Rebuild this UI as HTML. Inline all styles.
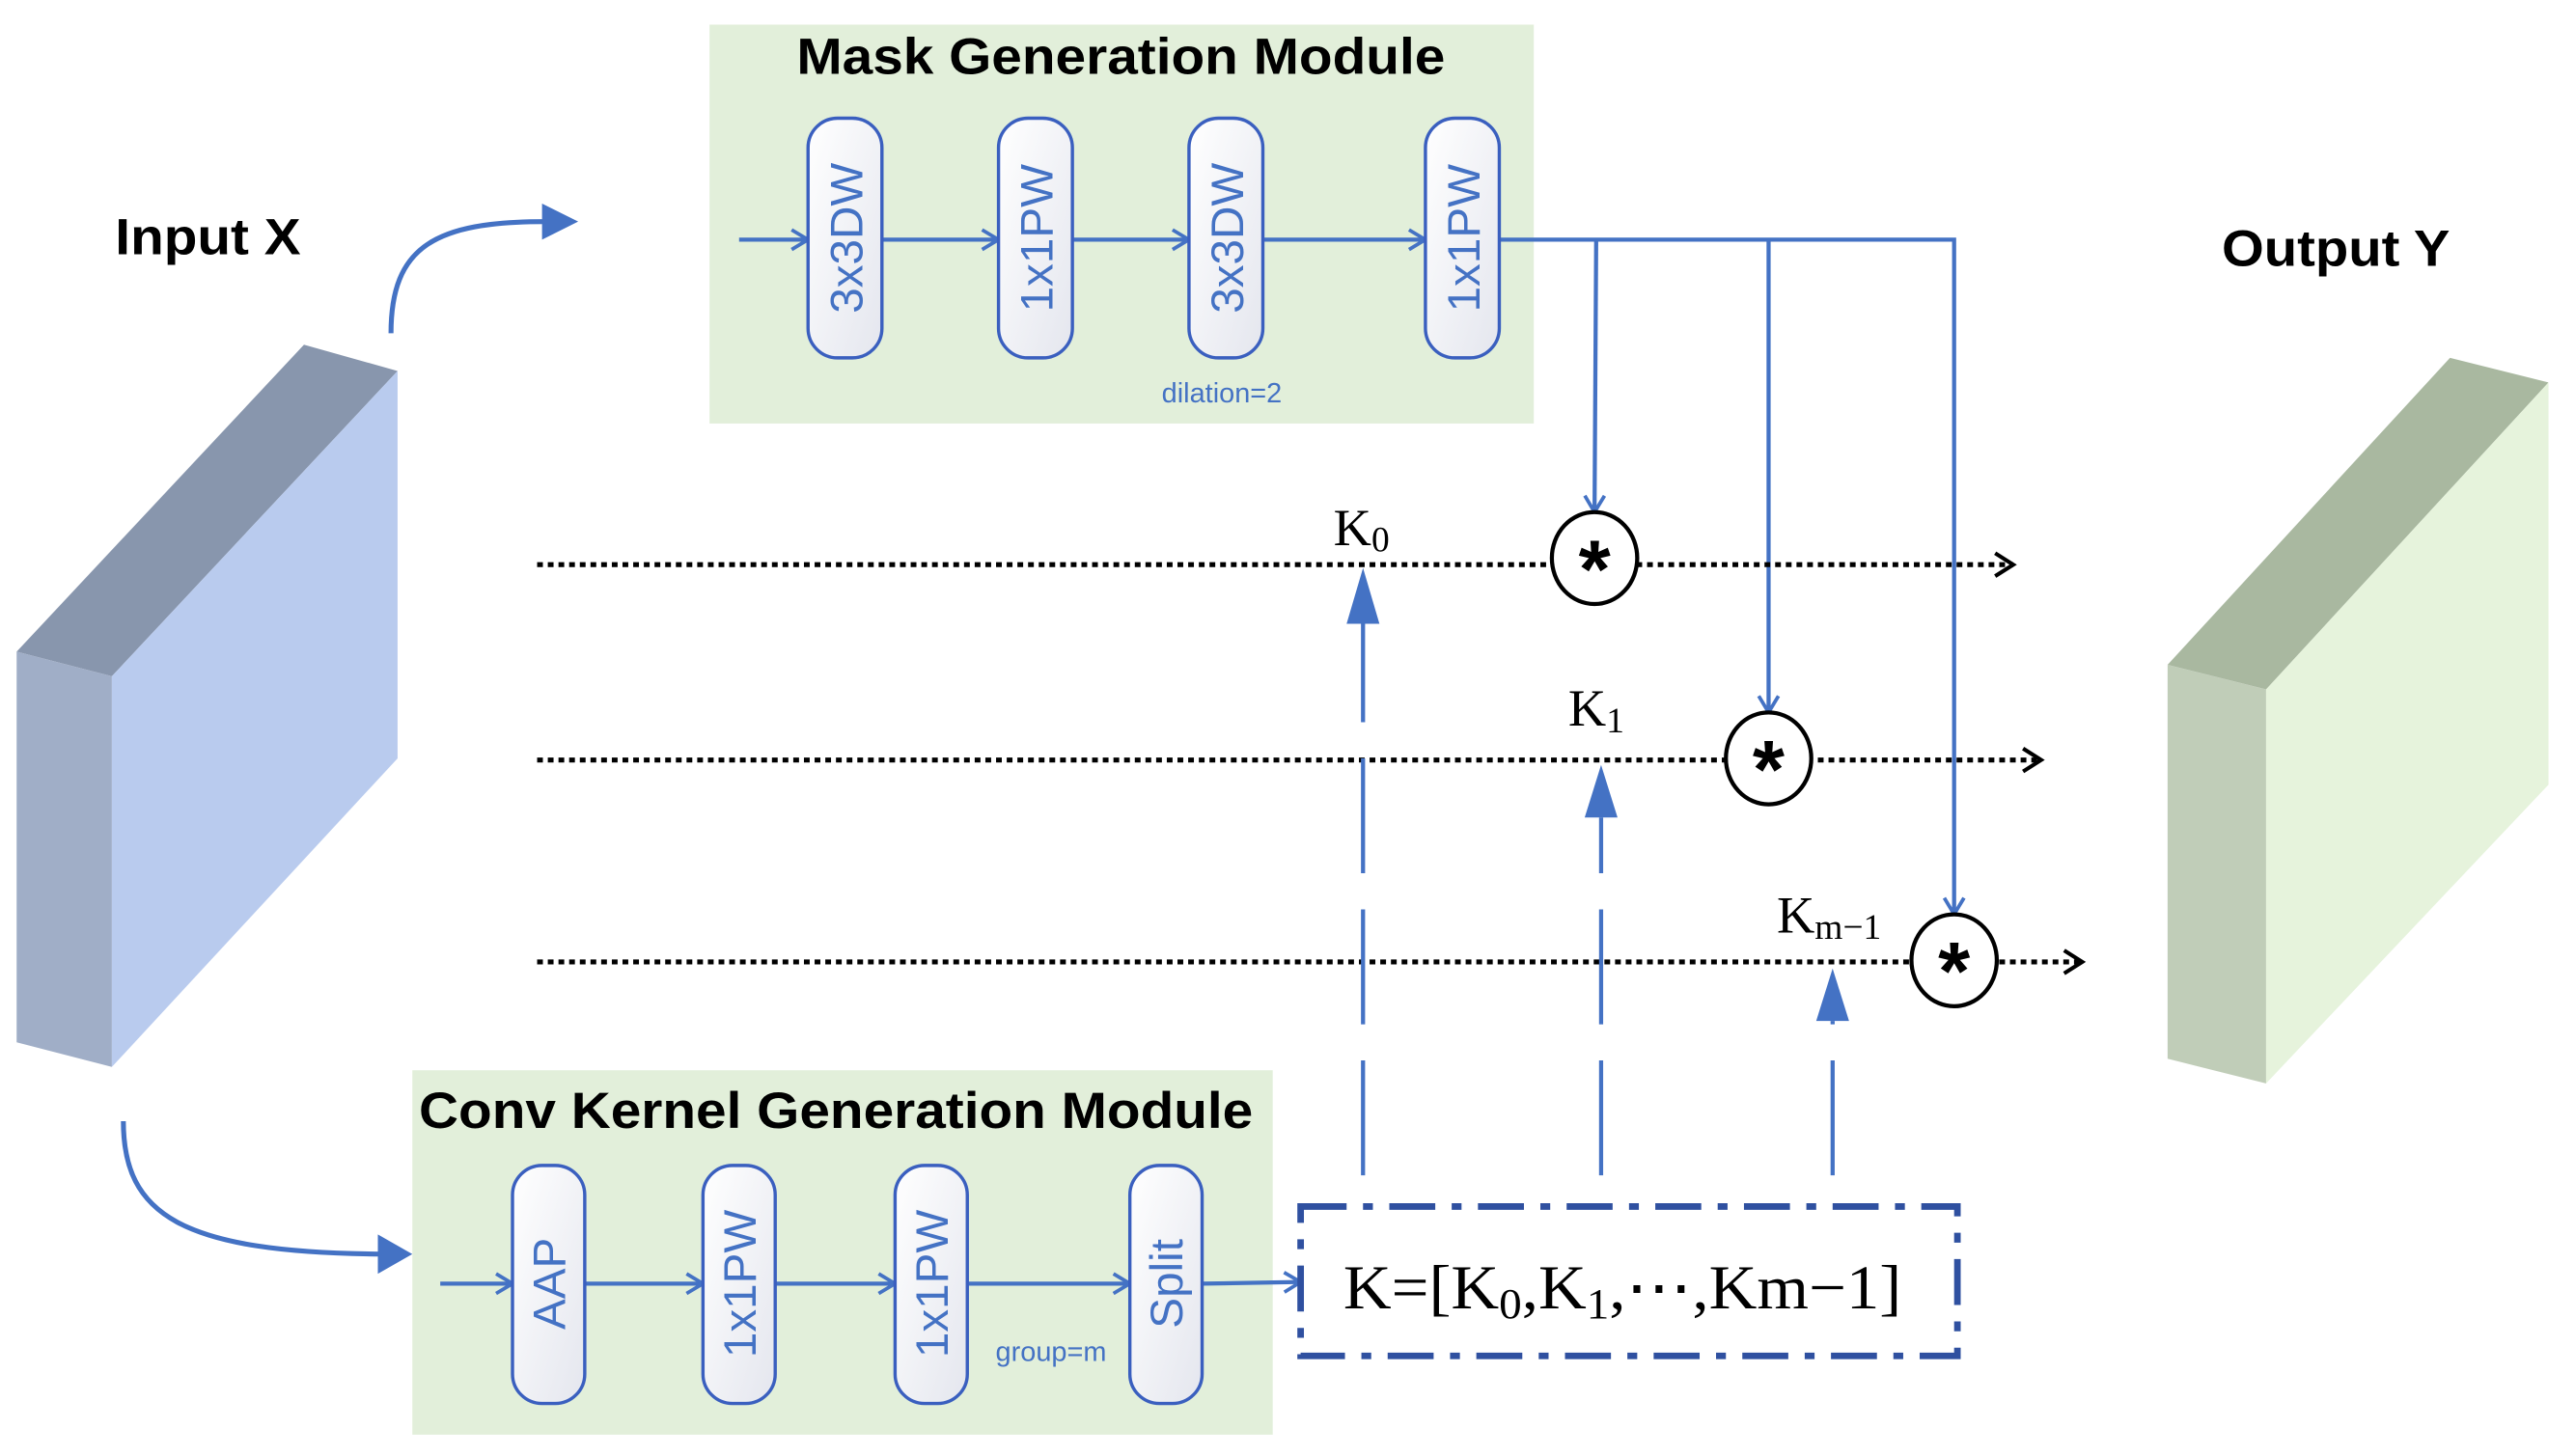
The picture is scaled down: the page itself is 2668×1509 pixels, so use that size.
<!DOCTYPE html>
<html><head><meta charset="utf-8">
<style>
html,body{margin:0;padding:0;background:#fff;}
svg{display:block;}
.t{font-family:"Liberation Sans",sans-serif;}
.s{font-family:"Liberation Serif",serif;}
</style></head>
<body>
<svg width="2668" height="1509" viewBox="0 0 1568 887" xmlns="http://www.w3.org/2000/svg">
<defs>
<linearGradient id="pg" x1="0" y1="0" x2="1" y2="1">
<stop offset="0" stop-color="#ffffff"/><stop offset="1" stop-color="#e4e6ee"/>
</linearGradient>
<marker id="oa" markerWidth="14" markerHeight="14" refX="12" refY="7" orient="auto" markerUnits="userSpaceOnUse">
<path d="M2,1 L12,7 L2,13" fill="none" stroke="#4472c4" stroke-width="2.2"/>
</marker>
<marker id="ba" markerWidth="16" markerHeight="16" refX="13" refY="8" orient="auto" markerUnits="userSpaceOnUse">
<path d="M2,1 L13,8 L2,15" fill="none" stroke="#000" stroke-width="2.4"/>
</marker>
</defs>

<polygon points="10,397 185,210 242,226 68,412" fill="#8896ad"/>
<polygon points="10,397 68,412 68,650 10,635" fill="#a0aec7"/>
<polygon points="68,412 242,226 242,462 68,650" fill="#b9cbee"/>

<polygon points="1320,405 1492,218 1552,233 1380,420" fill="#a9b8a0"/>
<polygon points="1320,405 1380,420 1380,660 1320,645" fill="#c0cdb8"/>
<polygon points="1380,420 1552,233 1552,478 1380,660" fill="#e6f3dc"/>

<text x="70" y="155" class="t" font-size="31" font-weight="bold" textLength="113" lengthAdjust="spacingAndGlyphs">Input X</text>
<text x="1353" y="162" class="t" font-size="31" font-weight="bold" textLength="139" lengthAdjust="spacingAndGlyphs">Output Y</text>

<path d="M238,203 C238,150 265,135 332,135" fill="none" stroke="#4472c4" stroke-width="3"/>
<polygon points="330,124 352,135 330,146" fill="#4472c4"/>
<path d="M75,683 C75,740 110,763 232,764" fill="none" stroke="#4472c4" stroke-width="3"/>
<polygon points="230,752 251,764 230,776" fill="#4472c4"/>

<rect x="432" y="15" width="502" height="243" fill="#e2efda"/>
<text x="485" y="45" class="t" font-size="31" font-weight="bold" textLength="395" lengthAdjust="spacingAndGlyphs">Mask Generation Module</text>
<g stroke="#4472c4" stroke-width="2.5" fill="none">
<line x1="450" y1="146" x2="492" y2="146" marker-end="url(#oa)"/>
<line x1="537" y1="146" x2="608" y2="146" marker-end="url(#oa)"/>
<line x1="653" y1="146" x2="724" y2="146" marker-end="url(#oa)"/>
<line x1="769" y1="146" x2="868" y2="146" marker-end="url(#oa)"/>
<polyline points="913,146 1190,146 1190,557" marker-end="url(#oa)"/>
<polyline points="972,146 971,312" marker-end="url(#oa)"/>
<polyline points="1077,146 1077,434" marker-end="url(#oa)"/>
</g>
<g stroke="#3a5fbf" stroke-width="2" fill="url(#pg)">
<rect x="492" y="72" width="45" height="146" rx="18"/>
<rect x="608" y="72" width="45" height="146" rx="18"/>
<rect x="724" y="72" width="45" height="146" rx="18"/>
<rect x="868" y="72" width="45" height="146" rx="18"/>
</g>
<g class="t" font-size="28" fill="#4472c4" text-anchor="middle">
<text transform="translate(525,145) rotate(-90)">3x3DW</text>
<text transform="translate(641,145) rotate(-90)">1x1PW</text>
<text transform="translate(757,145) rotate(-90)">3x3DW</text>
<text transform="translate(901,145) rotate(-90)">1x1PW</text>
</g>
<text x="744" y="245" class="t" font-size="17" fill="#4472c4" text-anchor="middle">dilation=2</text>

<g stroke="#000" stroke-width="3" stroke-dasharray="3.5 3" fill="none">
<line x1="327" y1="344" x2="1226" y2="344" marker-end="url(#ba)"/>
<line x1="327" y1="463" x2="1243" y2="463" marker-end="url(#ba)"/>
<line x1="327" y1="586" x2="1268" y2="586" marker-end="url(#ba)"/>
</g>

<g stroke="#4472c4" stroke-width="2.5" stroke-dasharray="70 22" fill="none">
<line x1="830" y1="716" x2="830" y2="380"/>
<line x1="975" y1="716" x2="975" y2="498"/>
<line x1="1116" y1="716" x2="1116" y2="622"/>
</g>
<g fill="#4472c4">
<polygon points="830,346 820,380 840,380"/>
<polygon points="975,466 965,498 985,498"/>
<polygon points="1116,590 1106,622 1126,622"/>
</g>

<g stroke="#000" stroke-width="2.5" fill="#fff">
<ellipse cx="971" cy="340" rx="26" ry="28"/>
<ellipse cx="1077" cy="462" rx="26" ry="28"/>
<ellipse cx="1190" cy="585" rx="26" ry="28"/>
</g>
<g class="t" font-size="50" font-weight="bold" text-anchor="middle">
<text x="971" y="364">*</text>
<text x="1077" y="486">*</text>
<text x="1190" y="609">*</text>
</g>

<text x="812" y="332" class="s" font-size="32">K<tspan font-size="22" dy="4">0</tspan></text>
<text x="955" y="442" class="s" font-size="32">K<tspan font-size="22" dy="4">1</tspan></text>
<text x="1082" y="568" class="s" font-size="32">K<tspan font-size="22" dy="4">m−1</tspan></text>

<rect x="251" y="652" width="524" height="222" fill="#e2efda"/>
<text x="255" y="687" class="t" font-size="31" font-weight="bold" textLength="508" lengthAdjust="spacingAndGlyphs">Conv Kernel Generation Module</text>
<g stroke="#4472c4" stroke-width="2.5" fill="none">
<line x1="268" y1="782" x2="312" y2="782" marker-end="url(#oa)"/>
<line x1="356" y1="782" x2="428" y2="782" marker-end="url(#oa)"/>
<line x1="472" y1="782" x2="545" y2="782" marker-end="url(#oa)"/>
<line x1="589" y1="782" x2="688" y2="782" marker-end="url(#oa)"/>
<line x1="732" y1="782" x2="792" y2="781" marker-end="url(#oa)"/>
</g>
<g stroke="#3a5fbf" stroke-width="2" fill="url(#pg)">
<rect x="312" y="710" width="44" height="145" rx="18"/>
<rect x="428" y="710" width="44" height="145" rx="18"/>
<rect x="545" y="710" width="44" height="145" rx="18"/>
<rect x="688" y="710" width="44" height="145" rx="18"/>
</g>
<g class="t" font-size="28" fill="#4472c4" text-anchor="middle">
<text transform="translate(344,782) rotate(-90)">AAP</text>
<text transform="translate(460,782) rotate(-90)">1x1PW</text>
<text transform="translate(577,782) rotate(-90)">1x1PW</text>
<text transform="translate(720,782) rotate(-90)">Split</text>
</g>
<text x="640" y="829" class="t" font-size="17" fill="#4472c4" text-anchor="middle">group=m</text>

<rect x="792" y="735" width="400" height="91" fill="#fff" stroke="#2f50a0" stroke-width="4" stroke-dasharray="28 10 6 10"/>
<text x="818" y="797" class="s" font-size="38" textLength="340" lengthAdjust="spacingAndGlyphs">K=[K<tspan font-size="26" dy="6">0</tspan><tspan dy="-6">,K</tspan><tspan font-size="26" dy="6">1</tspan><tspan dy="-6">,⋯,Km−1]</tspan></text>
</svg>
</body></html>
